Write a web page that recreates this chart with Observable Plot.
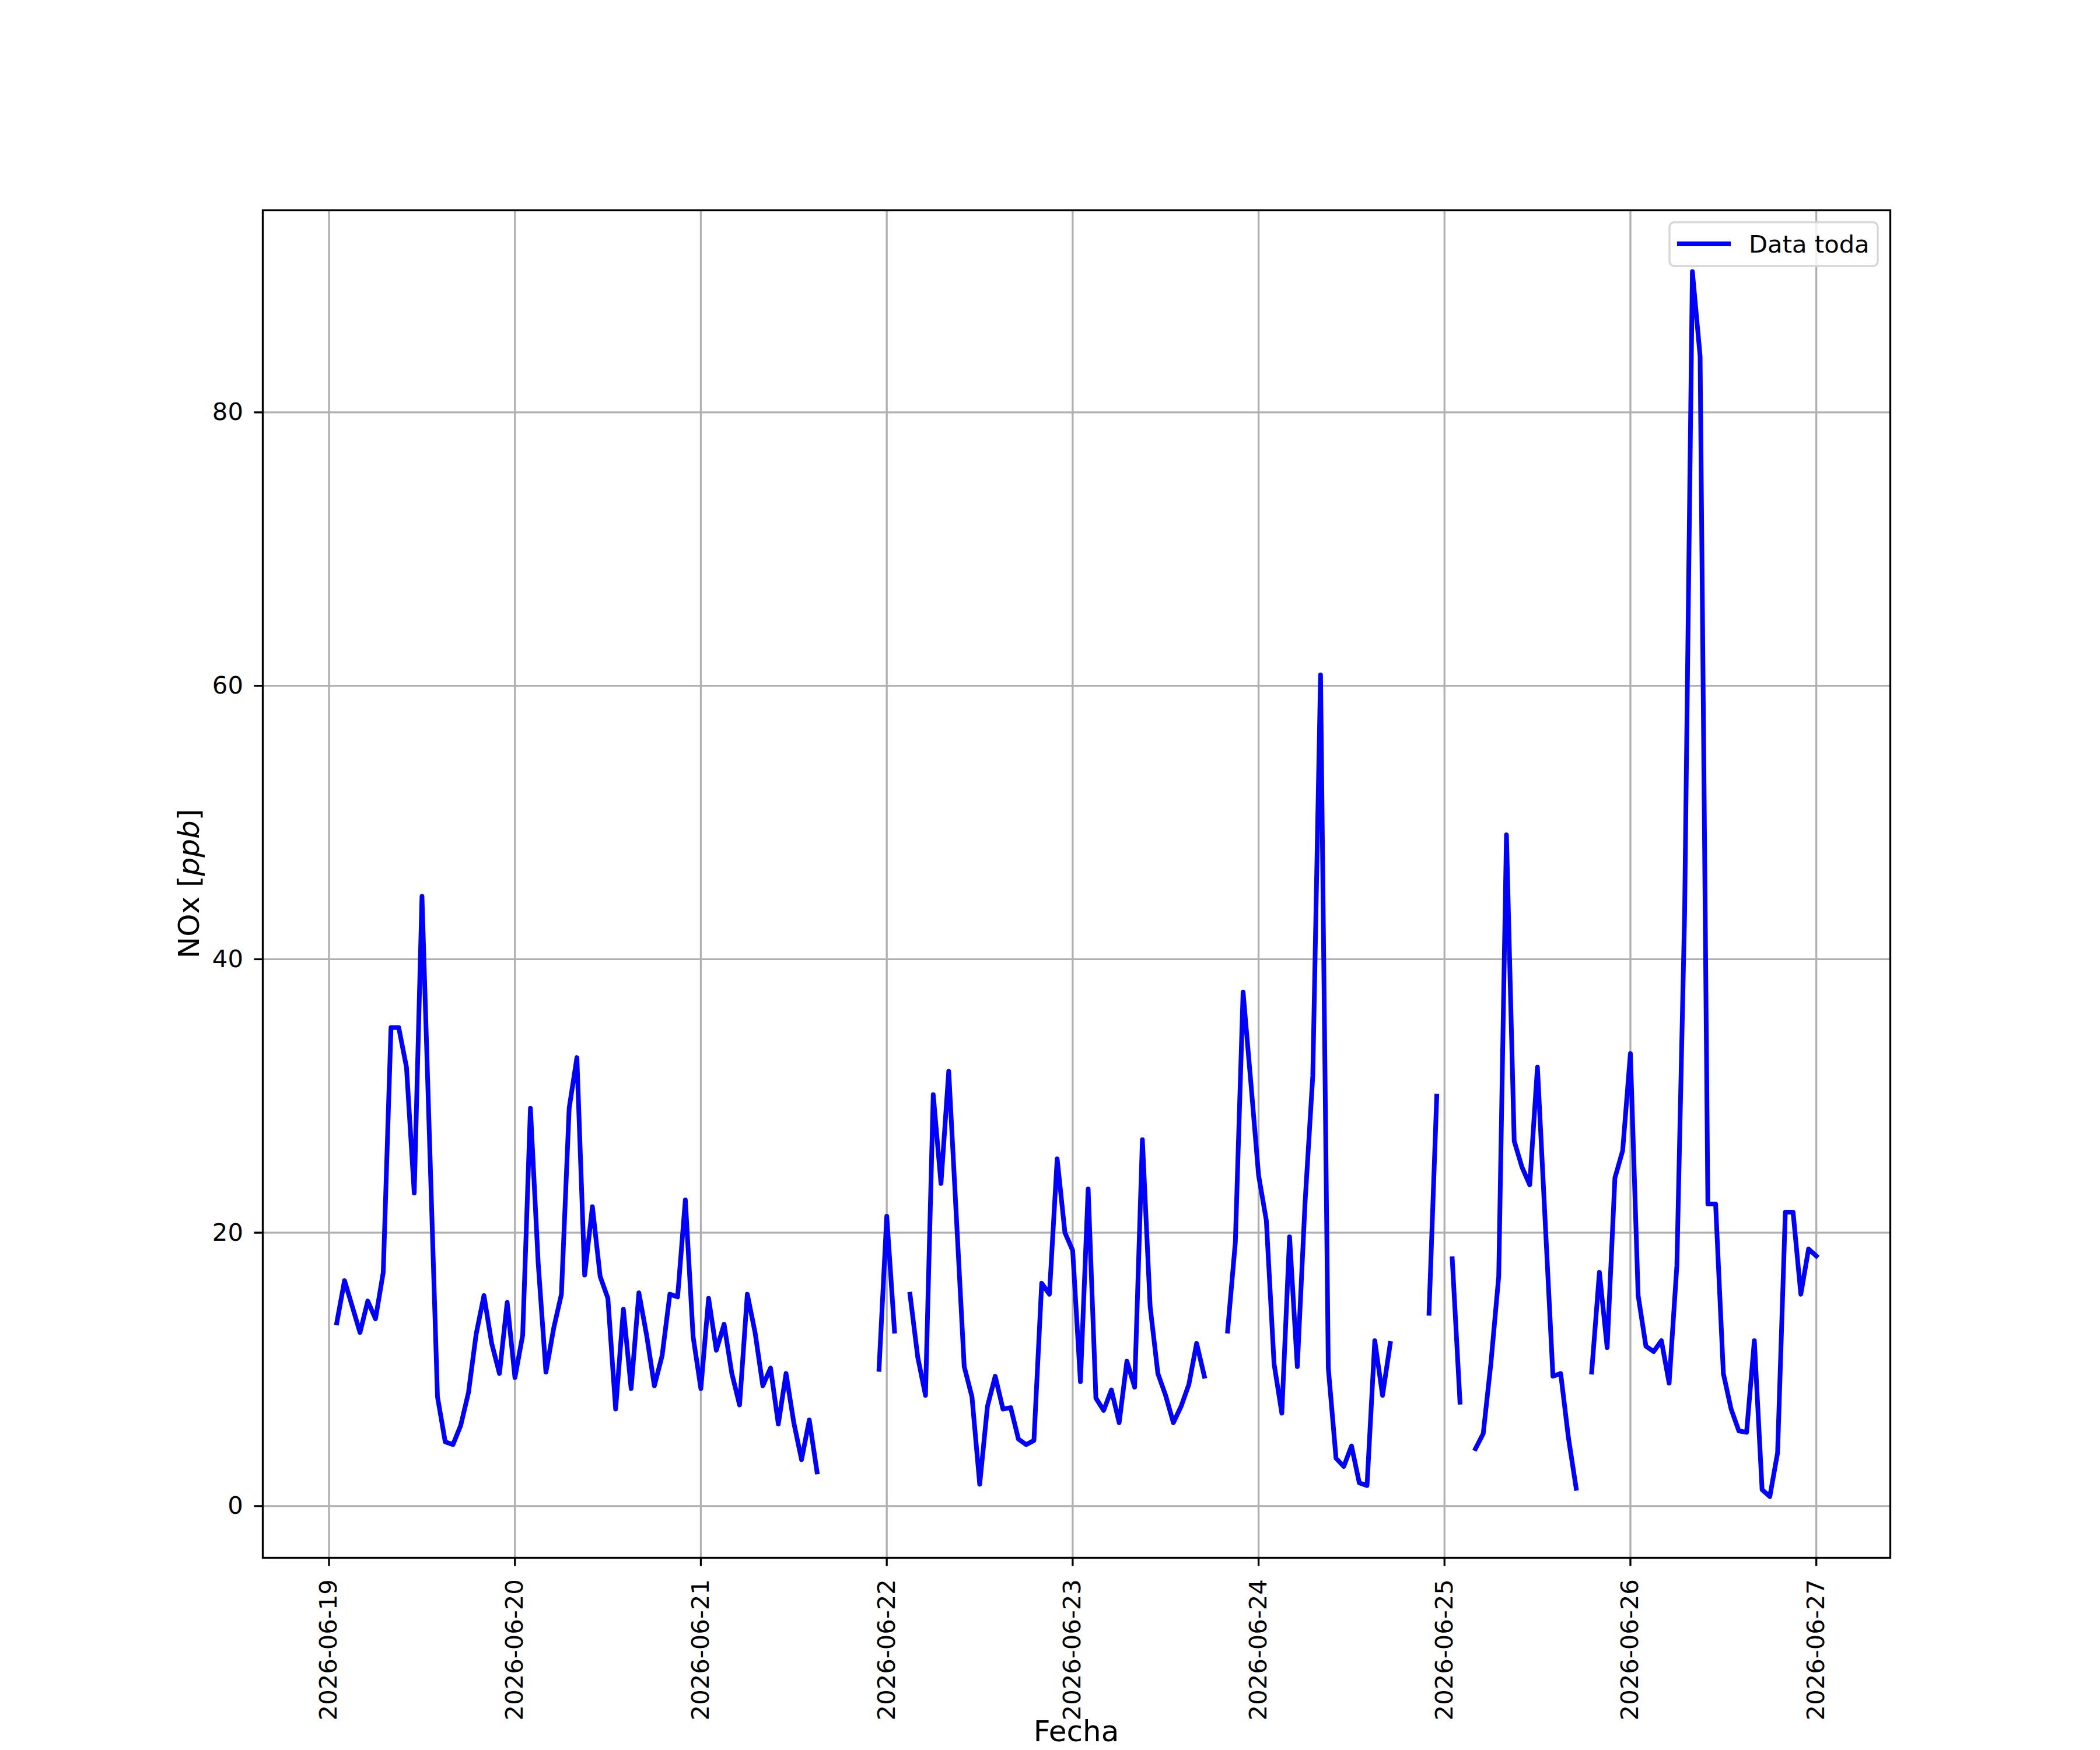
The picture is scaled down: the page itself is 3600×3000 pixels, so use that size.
<!DOCTYPE html>
<html>
<head>
<meta charset="utf-8">
<script src="https://cdn.jsdelivr.net/npm/d3@7"></script>
<script src="https://cdn.jsdelivr.net/npm/@observablehq/plot@0.6"></script>
<style>
  html, body { margin: 0; padding: 0; background: white; }
  #chart { width: 3600px; height: 3000px; overflow: hidden; }
</style>
</head>
<body>
<div id="chart"></div>
<script>
// Hourly NOx values (ppb), one array per day, hours 00..23; null = missing
const d19 = [null, 13.4, 16.5, 14.6, 12.7, 15.0, 13.7, 17.1, 35.0, 35.0, 32.1, 22.9, 44.6, 26.3, 8.0, 4.7, 4.5, 5.9, 8.3, 12.6, 15.4, 11.9, 9.7, 14.9];
const d20 = [9.4, 12.5, 29.1, 17.8, 9.8, 13.0, 15.5, 29.1, 32.8, 16.9, 21.9, 16.8, 15.2, 7.1, 14.4, 8.6, 15.6, 12.5, 8.8, 11.0, 15.5, 15.3, 22.4, 12.4];
const d21 = [8.6, 15.2, 11.4, 13.3, 9.7, 7.4, 15.5, 12.7, 8.8, 10.1, 6.0, 9.7, 6.1, 3.4, 6.3, 2.5, null, null, null, null, null, null, null, 10.0];
const d22 = [21.2, 12.8, null, 15.5, 10.9, 8.1, 30.1, 23.6, 31.8, 21.0, 10.2, 8.0, 1.6, 7.3, 9.5, 7.1, 7.2, 4.9, 4.5, 4.8, 16.3, 15.5, 25.4, 20.0];
const d23 = [18.7, 9.1, 23.2, 7.9, 7.0, 8.5, 6.1, 10.6, 8.7, 26.8, 14.6, 9.7, 8.1, 6.1, 7.3, 8.9, 11.9, 9.5, null, null, 12.8, 19.3, 37.6, 31.0];
const d24 = [24.2, 20.9, 10.4, 6.8, 19.7, 10.2, 22.2, 31.5, 60.8, 10.1, 3.5, 2.9, 4.4, 1.7, 1.5, 12.1, 8.1, 11.9, null, null, null, null, 14.1, 30.0];
const d25 = [null, 18.1, 7.6, null, 4.2, 5.3, 10.5, 16.8, 49.1, 26.7, 24.8, 23.5, 32.1, 20.8, 9.5, 9.7, 5.0, 1.3, null, 9.8, 17.1, 11.6, 24.0, 26.0];
const d26 = [33.1, 15.4, 11.7, 11.3, 12.1, 9.0, 17.6, 43.4, 90.3, 84.1, 22.1, 22.1, 9.7, 7.1, 5.5, 5.4, 12.1, 1.2, 0.7, 3.9, 21.5, 21.5, 15.5, 18.8];
const d27 = [18.3];

const days = [d19, d20, d21, d22, d23, d24, d25, d26, d27];
const startDay = Date.UTC(2026, 5, 19);
const yTicks = [0, 20, 40, 60, 80];
const xTickLabels = ["2026-06-19","2026-06-20","2026-06-21","2026-06-22","2026-06-23","2026-06-24","2026-06-25","2026-06-26","2026-06-27"];
const seriesName = "Data toda";

// Build table
const rows = [];
days.forEach((arr, di) => {
  arr.forEach((v, h) => {
    rows.push({date: new Date(startDay + (di * 24 + h) * 3600e3), value: v});
  });
});
const valid = rows.filter(r => r.value != null);
const [t0, t1] = d3.extent(valid, r => r.date);
const [v0, v1] = d3.extent(valid, r => r.value);
const tpad = (t1 - t0) * 0.05, vpad = (v1 - v0) * 0.05;
const xTicks = xTickLabels.map(s => new Date(s + "T00:00:00Z"));

const W = 3600, H = 3000;
const mL = 450, mR = 360, mT = 360, mB = 330;
const LW = 3.33;
const DLW = 8;

const plot = Plot.plot({
  width: W, height: H,
  marginLeft: mL, marginRight: mR, marginTop: mT, marginBottom: mB,
  style: {fontFamily: "DejaVu Sans", fontSize: "41.7px", background: "white", color: "black", overflow: "visible"},
  x: {type: "utc", domain: [new Date(+t0 - tpad), new Date(+t1 + tpad)]},
  y: {domain: [v0 - vpad, v1 + vpad]},
  marks: [
    Plot.gridX(xTicks, {stroke: "#b0b0b0", strokeOpacity: 1, strokeWidth: LW}),
    Plot.gridY(yTicks, {stroke: "#b0b0b0", strokeOpacity: 1, strokeWidth: LW}),
    Plot.line(rows, {x: "date", y: "value", stroke: "#0000ff", strokeWidth: DLW, strokeLinecap: "square", strokeLinejoin: "round", curve: "linear"}),
    Plot.frame({stroke: "black", strokeWidth: LW}),
    Plot.axisX(xTicks, {tickFormat: d3.utcFormat("%Y-%m-%d"), tickRotate: -90, tickSize: 14.6, tickPadding: 22, label: null, strokeWidth: LW, fontSize: 41.7}),
    Plot.axisY(yTicks, {tickSize: 14.6, tickPadding: 19, label: null, strokeWidth: LW, fontSize: 41.7})
  ]
});
document.getElementById("chart").appendChild(plot);

const svg = d3.select(plot);
// Y label
const yl = svg.append("text")
  .attr("transform", `translate(${341},${(mT + H - mB) / 2}) rotate(-90)`)
  .attr("text-anchor", "middle")
  .attr("font-family", "DejaVu Sans")
  .attr("font-size", 50)
  .attr("fill", "black");
yl.append("tspan").text("NOx [");
yl.append("tspan").attr("font-style", "italic").text("ppb");
yl.append("tspan").text("]");

// X label
svg.append("text")
  .attr("x", (mL + W - mR) / 2)
  .attr("y", 2985)
  .attr("text-anchor", "middle")
  .attr("font-family", "DejaVu Sans")
  .attr("font-size", 50)
  .attr("fill", "black")
  .text("Fecha");

// Legend
const lg = svg.append("g").attr("text-anchor", "start");
lg.append("rect")
  .attr("x", 2862).attr("y", 381).attr("width", 357).attr("height", 75)
  .attr("rx", 8).attr("ry", 8)
  .attr("fill", "white").attr("fill-opacity", 0.8)
  .attr("stroke", "#d6d6d6").attr("stroke-width", LW);
lg.append("line")
  .attr("x1", 2875).attr("x2", 2967).attr("y1", 418).attr("y2", 418)
  .attr("stroke", "#0000ff").attr("stroke-width", DLW).attr("stroke-linecap", "butt");
lg.append("text")
  .attr("x", 2998).attr("y", 433)
  .attr("text-anchor", "start")
  .attr("font-family", "DejaVu Sans").attr("font-size", 41.7).attr("fill", "black")
  .text(seriesName);
</script>
</body>
</html>
